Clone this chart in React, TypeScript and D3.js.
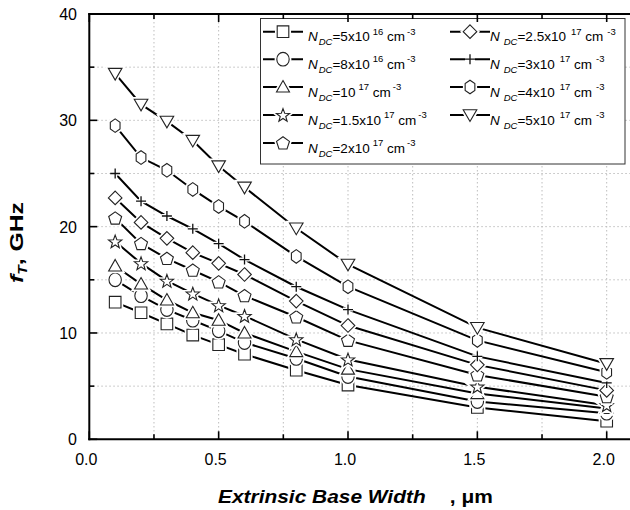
import React from "react";
import * as d3 from "d3";

const xValues = [0.1, 0.2, 0.3, 0.4, 0.5, 0.6, 0.8, 1.0, 1.5, 2.0];
const nd5e16 = [12.9, 11.9, 10.85, 9.8, 8.9, 8.0, 6.5, 5.1, 3.0, 1.7];
const nd8e16 = [15.0, 13.5, 12.2, 11.2, 10.2, 9.1, 7.6, 5.9, 3.55, 2.45];
const nd1e17 = [16.3, 14.6, 13.1, 11.9, 11.2, 10.0, 8.25, 6.6, 4.3, 2.9];
const nd15e17 = [18.6, 16.55, 14.9, 13.7, 12.6, 11.6, 9.4, 7.5, 4.95, 3.2];
const nd2e17 = [20.8, 18.4, 17.0, 15.9, 14.8, 13.5, 11.5, 9.3, 6.05, 4.0];
const nd25e17 = [22.7, 20.4, 18.9, 17.55, 16.55, 15.5, 13.0, 10.7, 7.0, 4.6];
const nd3e17 = [25.0, 22.4, 21.0, 19.8, 18.4, 16.9, 14.35, 12.2, 7.8, 5.3];
const nd4e17 = [29.5, 26.5, 25.3, 23.5, 21.9, 20.5, 17.2, 14.35, 9.3, 6.3];
const nd5e17 = [34.4, 31.5, 29.9, 28.1, 25.7, 23.7, 19.85, 16.45, 10.5, 7.1];

const xTickLabels = ["0.0", "0.5", "1.0", "1.5", "2.0"];
const yTickLabels = ["0", "10", "20", "30", "40"];

const series = [
  { values: nd5e16, marker: "square", mant: "5x10", exp: "16" },
  { values: nd8e16, marker: "circle", mant: "8x10", exp: "16" },
  { values: nd1e17, marker: "triUp", mant: "10", exp: "17" },
  { values: nd15e17, marker: "star", mant: "1.5x10", exp: "17" },
  { values: nd2e17, marker: "pentagon", mant: "2x10", exp: "17" },
  { values: nd25e17, marker: "diamond", mant: "2.5x10", exp: "17" },
  { values: nd3e17, marker: "plus", mant: "3x10", exp: "17" },
  { values: nd4e17, marker: "hexagon", mant: "4x10", exp: "17" },
  { values: nd5e17, marker: "triDown", mant: "5x10", exp: "17" },
];

function polygon(pts: [number, number][]) {
  return "M" + pts.map((p) => p[0].toFixed(2) + "," + p[1].toFixed(2)).join("L") + "Z";
}

function markerPath(kind: string): string {
  switch (kind) {
    case "square":
      return polygon([[-5.8, -5.8], [5.8, -5.8], [5.8, 5.8], [-5.8, 5.8]]);
    case "circle": {
      const rx = 6.2, ry = 6.8;
      return `M${-rx},0A${rx},${ry} 0 1,0 ${rx},0A${rx},${ry} 0 1,0 ${-rx},0Z`;
    }
    case "triUp":
      return polygon([[0, -6.5], [6.5, 5], [-6.5, 5]]);
    case "triDown":
      return polygon([[-6.8, -5.2], [6.8, -5.2], [0, 6.5]]);
    case "diamond":
      return polygon([[0, -6.8], [6.8, 0], [0, 6.8], [-6.8, 0]]);
    case "pentagon": {
      const pts: [number, number][] = [];
      for (let i = 0; i < 5; i++) {
        const a = -Math.PI / 2 + (i * 2 * Math.PI) / 5;
        pts.push([6.8 * Math.cos(a), 6.8 * Math.sin(a) + 0.5]);
      }
      return polygon(pts);
    }
    case "hexagon": {
      const pts: [number, number][] = [];
      for (let i = 0; i < 6; i++) {
        const a = -Math.PI / 2 + (i * 2 * Math.PI) / 6;
        pts.push([5.6 * Math.cos(a), 6.8 * Math.sin(a)]);
      }
      return polygon(pts);
    }
    case "star": {
      const pts: [number, number][] = [];
      for (let i = 0; i < 10; i++) {
        const a = -Math.PI / 2 + (i * Math.PI) / 5;
        const r = i % 2 === 0 ? 7 : 2.9;
        pts.push([r * Math.cos(a), r * Math.sin(a) + 0.6]);
      }
      return polygon(pts);
    }
    case "plus":
      return "M-5,0L5,0M0,-5L0,5";
  }
  return "";
}

function Marker({ kind, x, y }: { kind: string; x: number; y: number }) {
  const d = markerPath(kind);
  if (kind === "plus") {
    return (
      <g transform={`translate(${x},${y})`}>
        <path d={d} stroke="#fff" strokeWidth={4} fill="none" />
        <path d={d} stroke="#111" strokeWidth={1.3} fill="none" />
      </g>
    );
  }
  return (
    <g transform={`translate(${x},${y})`}>
      <path d={d} stroke="#fff" strokeWidth={4.5} fill="#fff" />
      <path d={d} stroke="#222" strokeWidth={1.1} fill="#fff" />
    </g>
  );
}

export default function App() {
  const W = 630, H = 510;
  const x = d3.scaleLinear().domain([0, 2.2]).range([89.3, 89.3 + 2.2 * 258.7]);
  const y = d3.scaleLinear().domain([0, 40]).range([439.3, 14]);
  const x0 = x(0), yB = y(0), yT = y(40);

  const xGrid = d3.range(0.25, 2.26, 0.25);
  const yGrid = d3.range(5, 36, 5);
  const xMajor = [0, 0.5, 1.0, 1.5, 2.0];
  const yMajor = [0, 10, 20, 30, 40];
  const xMinor = [0.25, 0.75, 1.25, 1.75, 2.25];
  const yMinor = [5, 15, 25, 35];

  const line = d3
    .line<number>()
    .x((_, i) => x(xValues[i]))
    .y((v) => y(v));

  const legendRows = [31.7, 59.2, 87, 115, 143];
  const legendCols = [283, 470];
  const font = "'Liberation Sans', Arial, sans-serif";

  return (
    <svg
      width={W}
      height={H}
      style={{ position: "absolute", left: 0, top: 0, background: "#fff" }}
      fontFamily={font}
    >
      <rect x={0} y={0} width={W} height={H} fill="#fff" />
      {/* grid */}
      <g stroke="#bdbdbd" strokeWidth={1} strokeDasharray="1.5,2.5">
        {xGrid.map((v) => (
          <line key={"gx" + v} x1={x(v)} x2={x(v)} y1={yT} y2={yB} />
        ))}
        {yGrid.map((v) => (
          <line key={"gy" + v} x1={x0} x2={W} y1={y(v)} y2={y(v)} />
        ))}
      </g>
      {/* legend box */}
      <rect x={260.5} y={18.5} width={364.5} height={145.5} fill="#fff" stroke="#333" strokeWidth={1} />
      {/* series */}
      {series.map((s, si) => (
        <g key={"s" + si}>
          <path d={line(s.values) || ""} fill="none" stroke="#000" strokeWidth={2} />
          {s.values.map((v, i) => (
            <Marker key={i} kind={s.marker} x={x(xValues[i])} y={y(v)} />
          ))}
        </g>
      ))}
      {/* legend entries */}
      {series.map((s, si) => {
        const col = si < 5 ? 0 : 1;
        const row = si < 5 ? si : si - 5;
        const cx = legendCols[col];
        const cy = legendRows[row];
        const tx = col === 0 ? cx + 25 : cx + 20;
        return (
          <g key={"l" + si}>
            <line x1={cx - 20} x2={cx + 20} y1={cy} y2={cy} stroke="#000" strokeWidth={2} />
            <Marker kind={s.marker} x={cx} y={cy} />
            <text x={tx} y={cy + 9.5} fontSize={13.5} fill="#000">
              <tspan fontStyle="italic">N</tspan>
              <tspan fontStyle="italic" fontSize={9.5} dy={4} dx={col === 1 ? 4 : 1}>
                DC
              </tspan>
              <tspan dy={-4}>{"=" + s.mant}</tspan>
              <tspan fontSize={9.5} dy={-6.5} dx={col === 1 ? 5 : 3}>
                {s.exp}
              </tspan>
              <tspan dy={6.5}>{" cm"}</tspan>
              <tspan fontSize={9.5} dy={-6.5} dx={col === 1 ? 4 : 2}>
                -3
              </tspan>
            </text>
          </g>
        );
      })}
      {/* axes frame */}
      <g stroke="#000" strokeWidth={2} fill="none">
        <line x1={x0} x2={x0} y1={yT - 1} y2={yB + 1} />
        <line x1={x0 - 1} x2={W} y1={yB} y2={yB} />
        <line x1={x0 - 1} x2={W} y1={yT} y2={yT} />
      </g>
      {/* ticks */}
      <g stroke="#000" strokeWidth={1.6}>
        {xMajor.map((v) => (
          <g key={"xm" + v}>
            <line x1={x(v)} x2={x(v)} y1={yB} y2={yB - 8} />
            <line x1={x(v)} x2={x(v)} y1={yT} y2={yT + 8} />
          </g>
        ))}
        {xMinor.map((v) => (
          <g key={"xn" + v}>
            <line x1={x(v)} x2={x(v)} y1={yB} y2={yB - 5} />
            <line x1={x(v)} x2={x(v)} y1={yT} y2={yT + 5} />
          </g>
        ))}
        {yMajor.map((v) => (
          <line key={"ym" + v} x1={x0} x2={x0 + 8} y1={y(v)} y2={y(v)} />
        ))}
        {yMinor.map((v) => (
          <line key={"yn" + v} x1={x0} x2={x0 + 5} y1={y(v)} y2={y(v)} />
        ))}
      </g>
      {/* tick labels */}
      {xMajor.map((v, i) => (
        <text key={"xl" + v} x={x(v) - 3} y={465} fontSize={16} textAnchor="middle" fill="#000">
          {xTickLabels[i]}
        </text>
      ))}
      {yMajor.map((v, i) => (
        <text key={"yl" + v} x={77} y={y(v) + 6} fontSize={16} textAnchor="end" fill="#000">
          {yTickLabels[i]}
        </text>
      ))}
      {/* x title */}
      <text transform="translate(218,503) scale(1.1,1)" fontSize={19} fontWeight="bold" fill="#000">
        <tspan fontStyle="italic">Extrinsic Base Width</tspan>
        <tspan dx={22}>, μm</tspan>
      </text>
      {/* y title */}
      <text
        transform="translate(23,283) rotate(-90) scale(1.3,1)"
        fontSize={19}
        fontWeight="bold"
        fill="#000"
      >
        <tspan fontStyle="italic">f</tspan>
        <tspan fontStyle="italic" fontSize={12} dy={4}>
          T
        </tspan>
        <tspan dy={-4}>, GHz</tspan>
      </text>
    </svg>
  );
}
